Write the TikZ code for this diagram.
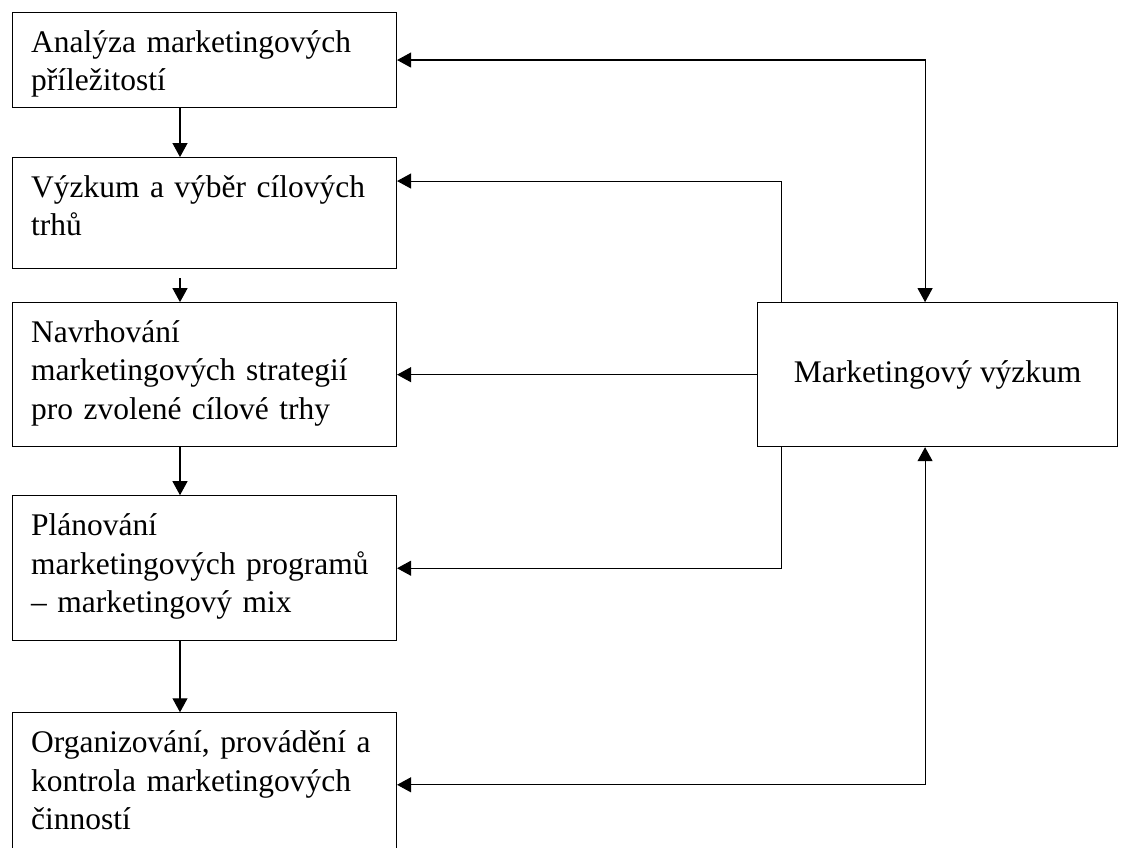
\documentclass[tikz,border=0pt]{standalone}
\usepackage{fontspec}
\setmainfont{Liberation Serif}
\usetikzlibrary{arrows.meta,calc,positioning}
\tikzset{
  stage/.style={rectangle,draw=black,line width=0.8pt,text width=260pt,
    inner xsep=14pt,inner ysep=0pt,align=left,text height=30pt,text depth=#1,
    font=\fontsize{23.6pt}{28.7pt}\selectfont},
  research/.style={rectangle,draw=black,line width=0.8pt,minimum width=270pt,minimum height=108pt,
    align=center,font=\fontsize{23.6pt}{28.7pt}\selectfont},
  arrow/.style={-{Triangle[length=10.5pt,width=11.25pt]},line width=0.8pt},
  twoway/.style={{Triangle[length=10.5pt,width=11.25pt]}-{Triangle[length=10.5pt,width=11.25pt]},line width=0.8pt}
}
\begin{document}
\begin{tikzpicture}
\useasboundingbox (0,0) rectangle (840.75pt,-636pt);
\node[stage=41.25pt,anchor=north west] (analysis) at (9pt,-9pt) {Analýza marketingových\\příležitostí};
\node[stage=53.25pt,below=36.75pt of analysis] (targets) {Výzkum a výběr cílových\\trhů};
\node[stage=78pt,below=24.75pt of targets] (strategy) {Navrhování\\marketingových strategií\\pro zvolené cílové trhy};
\node[stage=78.75pt,below=36pt of strategy] (programs) {Plánování\\marketingových programů\\– marketingový mix};
\node[stage=78pt,below=53.25pt of programs] (control) {Organizování, provádění a\\kontrola marketingových\\činností};
\node[research,right=270pt of strategy] (research) {Marketingový výzkum};
% rails for the connectors
\coordinate (leftrail) at ($(analysis.south west)+(126pt,0)$);
\coordinate (innerrail) at ($(research.north west)+(18pt,0)$);
\coordinate (outerrail) at ($(research.north west)+(126pt,0)$);
\draw[arrow] (analysis.south -| leftrail) -- (targets.north -| leftrail);
\draw[arrow,shorten <=6.75pt] (targets.south -| leftrail) -- (strategy.north -| leftrail);
\draw[arrow] (strategy.south -| leftrail) -- (programs.north -| leftrail);
\draw[arrow] (programs.south -| leftrail) -- (control.north -| leftrail);
\draw[twoway] (analysis.east) -| (research.north -| outerrail);
\draw[arrow] (research.north -| innerrail) |- ($(targets.north east)+(0,-18pt)$);
\draw[arrow] (research.west) -- (strategy.east);
\draw[arrow] (research.south -| innerrail) |- (programs.east);
\draw[twoway] (control.east) -| (research.south -| outerrail);
\end{tikzpicture}
\end{document}
